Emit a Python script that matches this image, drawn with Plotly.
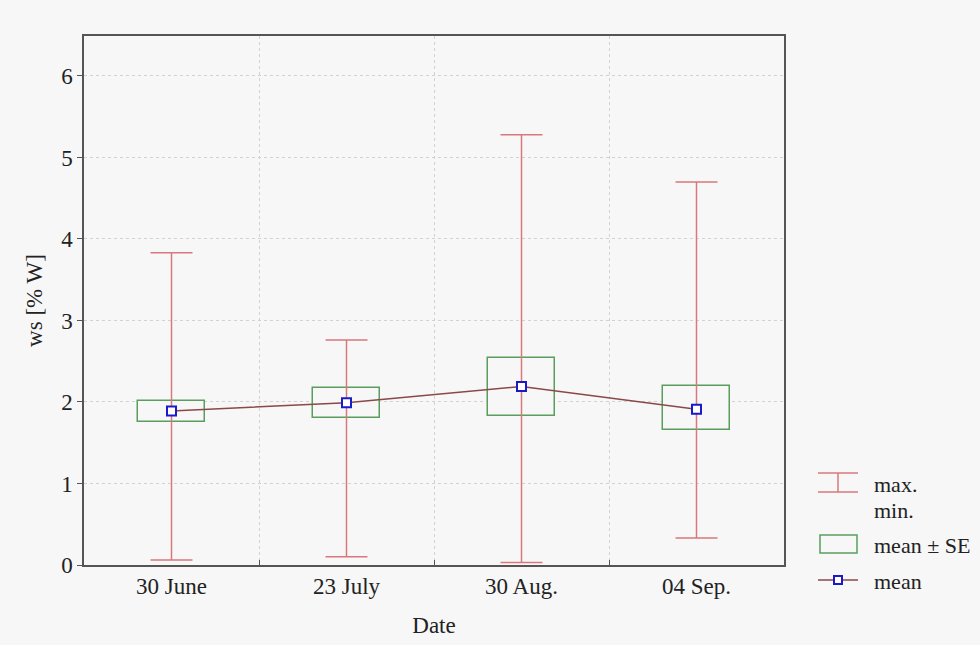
import plotly.graph_objects as go

categories = ["30 June", "23 July", "30 Aug.", "04 Sep."]
mean_vals = [1.89, 1.99, 2.19, 1.91]
se_low = [1.75, 1.80, 1.83, 1.66]
se_high = [2.01, 2.17, 2.54, 2.20]
min_vals = [0.06, 0.10, 0.03, 0.33]
max_vals = [3.83, 2.76, 5.28, 4.70]
y_ticks = [0, 1, 2, 3, 4, 5, 6]

BG = "#f7f7f7"
WHISK = "#d9787c"
BOXC = "#5a9e5e"
LINEC = "#8a4848"
MARKC = "#1a1acc"
FONT = "Liberation Serif"
FS = 23

xs = list(range(len(categories)))
mid = [(a + b) / 2 for a, b in zip(min_vals, max_vals)]
half = [(b - a) / 2 for a, b in zip(min_vals, max_vals)]

fig = go.Figure()
fig.add_trace(go.Scatter(
    x=xs, y=mid, mode="markers", marker=dict(size=1, opacity=0),
    error_y=dict(type="data", array=half, arrayminus=half, symmetric=False,
                 color=WHISK, thickness=1.5, width=21),
    showlegend=False, hoverinfo="skip"))
fig.add_trace(go.Bar(
    x=xs, y=[h - l for h, l in zip(se_high, se_low)], base=se_low, width=0.38,
    marker=dict(color=BG, line=dict(color=BOXC, width=1.5)),
    showlegend=False))
fig.add_trace(go.Scatter(
    x=xs, y=mean_vals, mode="lines+markers",
    line=dict(color=LINEC, width=1.5),
    marker=dict(symbol="square", size=9, color="white", line=dict(color=MARKC, width=2)),
    showlegend=False))

# custom legend (paper coords)
def px2x(px):
    return (px - 84) / 700.0

def py2y(py):
    return (565 - py) / 529.0

shapes = []
shapes.append(dict(type="line", xref="paper", yref="paper", x0=px2x(818), x1=px2x(858), y0=py2y(473), y1=py2y(473), line=dict(color=WHISK, width=1.5)))
shapes.append(dict(type="line", xref="paper", yref="paper", x0=px2x(818), x1=px2x(858), y0=py2y(492), y1=py2y(492), line=dict(color=WHISK, width=1.5)))
shapes.append(dict(type="line", xref="paper", yref="paper", x0=px2x(838), x1=px2x(838), y0=py2y(473), y1=py2y(492), line=dict(color=WHISK, width=1.5)))
shapes.append(dict(type="rect", xref="paper", yref="paper", x0=px2x(820), x1=px2x(857), y0=py2y(553), y1=py2y(535), line=dict(color=BOXC, width=1.5), fillcolor=BG))
shapes.append(dict(type="line", xref="paper", yref="paper", x0=px2x(818), x1=px2x(858), y0=py2y(580), y1=py2y(580), line=dict(color=LINEC, width=1.5)))
shapes.append(dict(type="rect", xref="paper", yref="paper", x0=px2x(834), x1=px2x(842), y0=py2y(584), y1=py2y(576), line=dict(color=MARKC, width=2), fillcolor="white"))

annotations = []
for txt, py in [("max.", 484), ("min.", 510), ("mean ± SE", 545), ("mean", 581)]:
    annotations.append(dict(text=txt, xref="paper", yref="paper", x=px2x(872), y=py2y(py),
                            xanchor="left", yanchor="middle", showarrow=False,
                            font=dict(family=FONT, size=22, color="#222")))

fig.update_layout(
    width=980, height=645,
    margin=dict(l=84, r=196, t=36, b=80),
    paper_bgcolor=BG, plot_bgcolor=BG,
    font=dict(family=FONT, size=FS, color="#222"),
    showlegend=False,
    shapes=shapes, annotations=annotations,
    bargap=0,
    xaxis=dict(
        range=[-0.5, 3.5], tickmode="array", tickvals=xs, ticktext=categories,
        showgrid=False, ticks="", zeroline=False,
        showline=True, linecolor="#555", linewidth=1.5, mirror=True,
        minor=dict(tickmode="array", tickvals=[0.5, 1.5, 2.5], showgrid=True,
                   gridcolor="#d2d2d2", griddash="dot", gridwidth=1,
                   ticks="inside", ticklen=5, tickcolor="#555"),
        title=dict(text="Date", font=dict(family=FONT, size=FS), standoff=19),
    ),
    yaxis=dict(
        range=[0, 6.49], tickmode="array", tickvals=y_ticks,
        showgrid=True, gridcolor="#d2d2d2", griddash="dot", gridwidth=1,
        ticks="outside", ticklen=5, tickcolor="#555", zeroline=False,
        showline=True, linecolor="#555", linewidth=1.5, mirror=True,
        title=dict(text="ws [% W]", font=dict(family=FONT, size=FS), standoff=12),
    ),
)

fig.write_html("out.html")
